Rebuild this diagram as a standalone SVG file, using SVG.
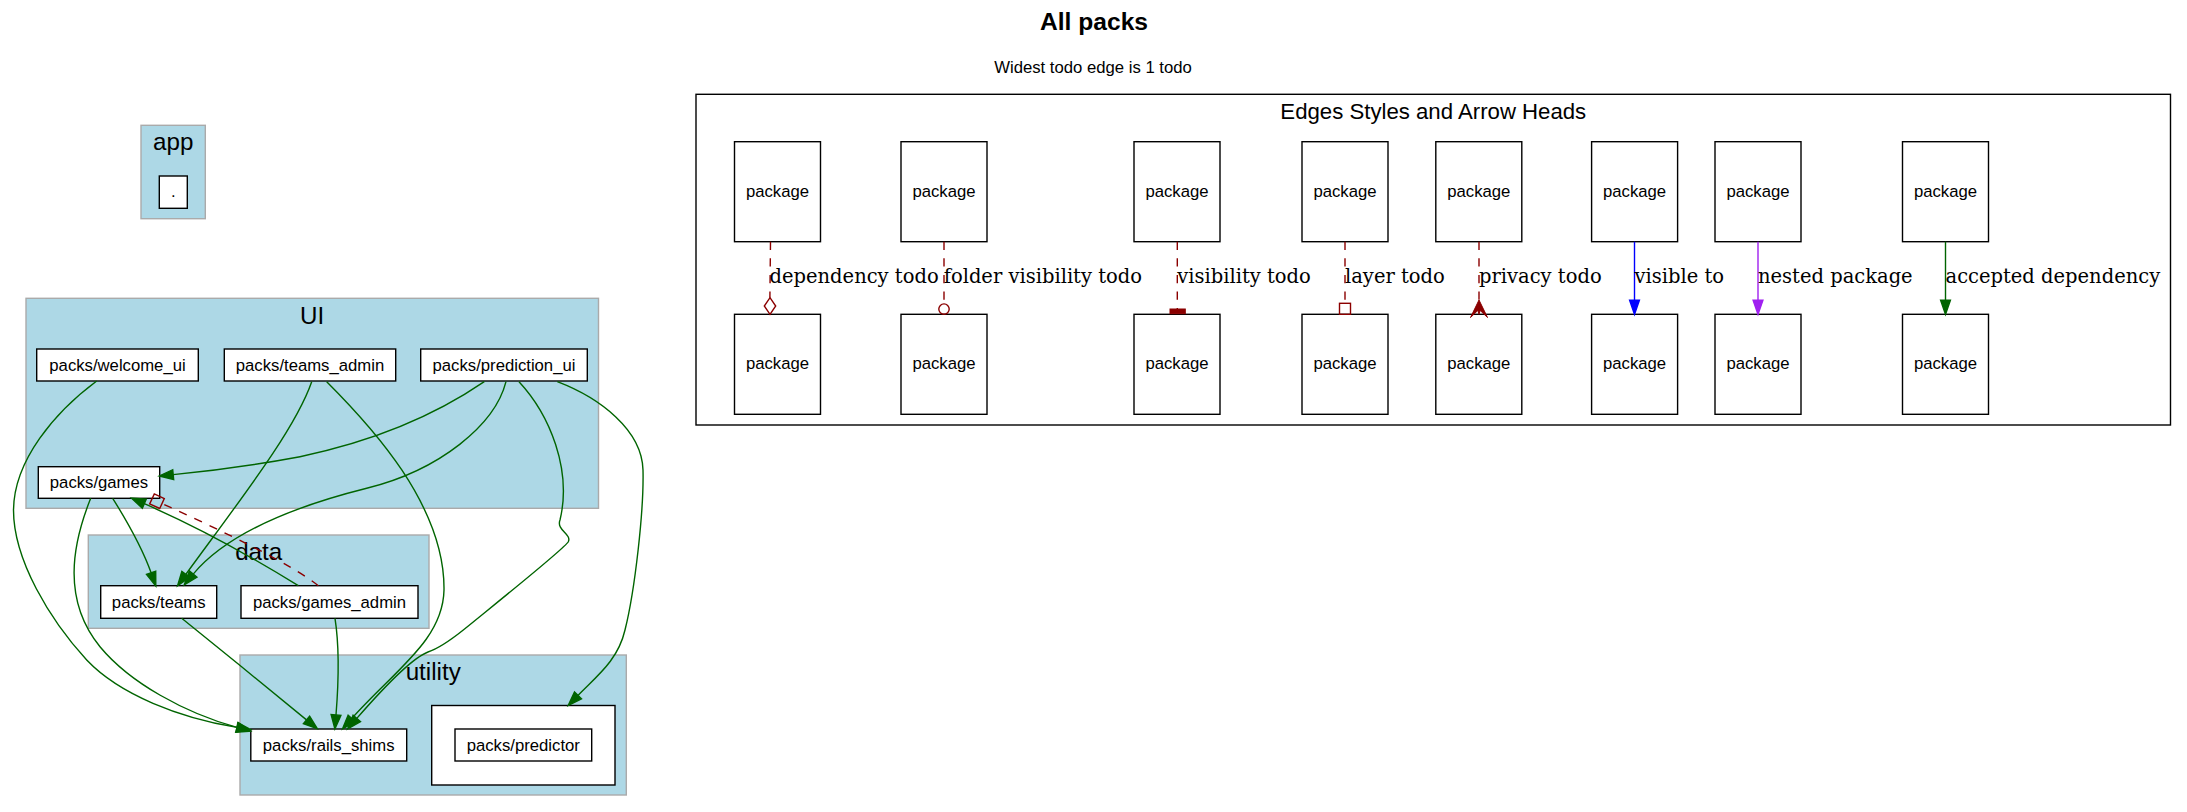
<svg xmlns="http://www.w3.org/2000/svg" width="2187" height="812" viewBox="0 0 2187 812">
<style>
.cl{fill:#add8e6;stroke:#aaaaaa;stroke-width:1.4}
.wc{fill:#ffffff;stroke:#000000;stroke-width:1.4}
.nd{fill:#ffffff;stroke:#000000;stroke-width:1.4}
.nt{font-family:"Liberation Sans",Arial,sans-serif;font-size:16.7px;text-anchor:middle;fill:#000000}
.ct{font-family:"Liberation Sans",Arial,sans-serif;font-size:22.2px;text-anchor:middle;fill:#000000}
.cb{font-family:"Liberation Sans",Arial,sans-serif;font-size:24.2px;text-anchor:middle;fill:#000000}
.el{font-family:"DejaVu Serif",serif;font-size:19.5px;fill:#000000}
.g{fill:none;stroke:#006400;stroke-width:1.4}
.t{fill:none;stroke:#8b0000;stroke-width:1.4;stroke-dasharray:8.3,8.3}
.th{fill:none;stroke:#8b0000;stroke-width:1.4}
</style>
<defs>
<marker id="ag" viewBox="0 -5 14 10" refX="0" refY="0" markerWidth="14" markerHeight="10" markerUnits="userSpaceOnUse" orient="auto" overflow="visible"><path d="M0,-4.9L14,0L0,4.9Z" fill="#006400" stroke="#006400" stroke-width="1.4"/></marker>
<marker id="ab" viewBox="0 -5 14 10" refX="0" refY="0" markerWidth="14" markerHeight="10" markerUnits="userSpaceOnUse" orient="auto" overflow="visible"><path d="M0,-4.9L14,0L0,4.9Z" fill="#0000ff" stroke="#0000ff" stroke-width="1.4"/></marker>
<marker id="ap" viewBox="0 -5 14 10" refX="0" refY="0" markerWidth="14" markerHeight="10" markerUnits="userSpaceOnUse" orient="auto" overflow="visible"><path d="M0,-4.9L14,0L0,4.9Z" fill="#a020f0" stroke="#a020f0" stroke-width="1.4"/></marker>
</defs>
<rect x="0" y="0" width="2187" height="812" fill="#ffffff"/>
<text x="1094" y="30" style="font-family:'Liberation Sans',Arial,sans-serif;font-size:24.6px;font-weight:bold;text-anchor:middle">All packs</text>
<text x="1093" y="72.7" class="nt">Widest todo edge is 1 todo</text>

<g id="clusters">
<g id="cluster_app"><rect class="cl" x="141" y="125.3" width="64.3" height="93.4"/><text class="cb" x="173.2" y="150">app</text></g>
<g id="cluster_UI"><rect class="cl" x="26" y="298.3" width="572.5" height="210"/><text class="cb" x="312.2" y="323.8">UI</text></g>
<g id="cluster_data"><rect class="cl" x="88.3" y="535" width="340.7" height="93.3"/><text class="cb" x="258.7" y="560.3">data</text></g>
<g id="cluster_utility"><rect class="cl" x="240" y="655" width="386.3" height="140"/><text class="cb" x="433.2" y="680">utility</text></g>
<g id="cluster_predictor"><rect class="wc" x="431.7" y="705.5" width="183.3" height="79.5"/></g>
<g id="cluster_legend"><rect class="wc" x="696" y="94.3" width="1474.5" height="330.7"/><text class="ct" x="1433.3" y="118.5">Edges Styles and Arrow Heads</text></g>
</g>

<g id="nodes">
<g id="n_root"><rect class="nd" x="159.3" y="176" width="28" height="32.3"/><text class="nt" x="173.3" y="197">.</text></g>
<g id="n_welcome_ui"><rect class="nd" x="36.7" y="349" width="161.6" height="32"/><text class="nt" x="117.5" y="370.5">packs/welcome_ui</text></g>
<g id="n_teams_admin"><rect class="nd" x="224.3" y="349" width="171.4" height="32"/><text class="nt" x="310" y="370.5">packs/teams_admin</text></g>
<g id="n_prediction_ui"><rect class="nd" x="420.7" y="349" width="166.6" height="32"/><text class="nt" x="504" y="370.5">packs/prediction_ui</text></g>
<g id="n_games"><rect class="nd" x="38.3" y="466.7" width="121.4" height="31.6"/><text class="nt" x="99" y="488">packs/games</text></g>
<g id="n_teams"><rect class="nd" x="100.7" y="585.7" width="116" height="32.6"/><text class="nt" x="158.7" y="607.5">packs/teams</text></g>
<g id="n_games_admin"><rect class="nd" x="241" y="585.7" width="177" height="32.6"/><text class="nt" x="329.5" y="607.5">packs/games_admin</text></g>
<g id="n_rails_shims"><rect class="nd" x="250.8" y="729" width="155.9" height="32"/><text class="nt" x="328.7" y="750.5">packs/rails_shims</text></g>
<g id="n_predictor"><rect class="nd" x="455" y="729" width="136.7" height="32"/><text class="nt" x="523.3" y="750.5">packs/predictor</text></g>
<g id="legend_nodes">
<rect class="nd" x="734.5" y="141.7" width="86" height="100"/><text class="nt" x="777.5" y="196.7">package</text>
<rect class="nd" x="734.5" y="314.3" width="86" height="100"/><text class="nt" x="777.5" y="369.3">package</text>
<rect class="nd" x="901" y="141.7" width="86" height="100"/><text class="nt" x="944" y="196.7">package</text>
<rect class="nd" x="901" y="314.3" width="86" height="100"/><text class="nt" x="944" y="369.3">package</text>
<rect class="nd" x="1134" y="141.7" width="86" height="100"/><text class="nt" x="1177" y="196.7">package</text>
<rect class="nd" x="1134" y="314.3" width="86" height="100"/><text class="nt" x="1177" y="369.3">package</text>
<rect class="nd" x="1302" y="141.7" width="86" height="100"/><text class="nt" x="1345" y="196.7">package</text>
<rect class="nd" x="1302" y="314.3" width="86" height="100"/><text class="nt" x="1345" y="369.3">package</text>
<rect class="nd" x="1435.8" y="141.7" width="86" height="100"/><text class="nt" x="1478.8" y="196.7">package</text>
<rect class="nd" x="1435.8" y="314.3" width="86" height="100"/><text class="nt" x="1478.8" y="369.3">package</text>
<rect class="nd" x="1591.6" y="141.7" width="86" height="100"/><text class="nt" x="1634.6" y="196.7">package</text>
<rect class="nd" x="1591.6" y="314.3" width="86" height="100"/><text class="nt" x="1634.6" y="369.3">package</text>
<rect class="nd" x="1715" y="141.7" width="86" height="100"/><text class="nt" x="1758" y="196.7">package</text>
<rect class="nd" x="1715" y="314.3" width="86" height="100"/><text class="nt" x="1758" y="369.3">package</text>
<rect class="nd" x="1902.5" y="141.7" width="86" height="100"/><text class="nt" x="1945.5" y="196.7">package</text>
<rect class="nd" x="1902.5" y="314.3" width="86" height="100"/><text class="nt" x="1945.5" y="369.3">package</text>
</g>
</g>

<g id="connectors">
<path class="g" marker-end="url(#ag)" d="M96.7,381 C55,412 14,460 13.5,510 C13.5,560 50,620 86.7,660 C120,695 180,718 237,727.4"/>
<path class="g" marker-end="url(#ag)" d="M90.7,498.3 C72,545 62,600 100,646.7 C130,683 185,713 237,727.4"/>
<path class="g" marker-end="url(#ag)" d="M112.7,498.3 C125,518 143,550 151.1,572.8"/>
<path class="g" marker-end="url(#ag)" d="M311.7,381.7 C295,430 240,500 185.8,574.4"/>
<path class="g" marker-end="url(#ag)" d="M506,381.7 C495,425 440,470 366.7,488.3 C306.7,503.3 230,530 193.2,574.1"/>
<path class="g" marker-end="url(#ag)" d="M484.3,381.7 C440,412 380,440 300,456.7 C250,466 210,471 173.2,474.6"/>
<path class="g" marker-end="url(#ag)" d="M298.3,585.7 C260,562 200,528 144.3,503.7"/>
<path class="t" d="M318.3,585.7 C290,563 220,530 162,503.5"/>
<polygon class="th" points="149.7,503.9 154.3,493.9 164.3,498.5 159.7,508.5"/>
<path class="g" marker-end="url(#ag)" d="M326.7,381.7 C370,425 445,505 444,590 C443,640 395,670 351.8,718.5"/>
<path class="g" marker-end="url(#ag)" d="M519,381.7 C550,415 572,470 560,520 C556,530 572,534 568.3,541.7 C565,548 510,592 463.3,630 C452,639 440,648 428,652 C412,658 385,686 356.8,718.4"/>
<path class="g" marker-end="url(#ag)" d="M181.7,618.3 C220,649 270,690 306.5,719.9"/>
<path class="g" marker-end="url(#ag)" d="M335,618.3 C340,650 338,690 336,715"/>
<path class="g" marker-end="url(#ag)" d="M557.3,381.7 C600,398 642,430 643,470 C644,510 635,590 625,630 C618,660 598,675 578,695.4"/>

<g id="legend_edges">
<path class="t" d="M770.5,241.7 L769.9,297.7"/>
<polygon class="th" points="770,314.3 775.7,306 770,297.7 764.3,306"/>
<text class="el" x="769.5" y="282.5">dependency todo</text>
<path class="t" d="M944,241.7 L944,303.9"/>
<circle class="th" cx="944" cy="309.1" r="5.2"/>
<text class="el" x="943.7" y="282.5">folder visibility todo</text>
<path class="t" d="M1177.3,241.7 L1177.3,309"/>
<rect x="1170" y="309" width="15.3" height="4.7" fill="#8b0000" stroke="#8b0000" stroke-width="1"/>
<text class="el" x="1177.3" y="282.5">visibility todo</text>
<path class="t" d="M1345,241.7 L1345,303.3"/>
<rect class="th" x="1339.5" y="303.3" width="11" height="11"/>
<text class="el" x="1345" y="282.5">layer todo</text>
<path class="t" d="M1479,241.7 L1479,300.5"/>
<polygon points="1479,300 1487.5,317.5 1480.2,310.5 1479,314.3 1477.8,310.5 1470.5,317.5" fill="#8b0000" stroke="#8b0000" stroke-width="1"/>
<text class="el" x="1479" y="282.5">privacy todo</text>
<path d="M1634.5,241.7 L1634.5,300.3" fill="none" stroke="#0000ff" stroke-width="1.4" marker-end="url(#ab)"/>
<text class="el" x="1634.5" y="282.5">visible to</text>
<path d="M1758,241.7 L1758,300.3" fill="none" stroke="#a020f0" stroke-width="1.4" marker-end="url(#ap)"/>
<text class="el" x="1758" y="282.5">nested package</text>
<path class="g" marker-end="url(#ag)" d="M1945.5,241.7 L1945.5,300.3"/>
<text class="el" x="1945.5" y="282.5">accepted dependency</text>
</g>
</g>
</svg>
